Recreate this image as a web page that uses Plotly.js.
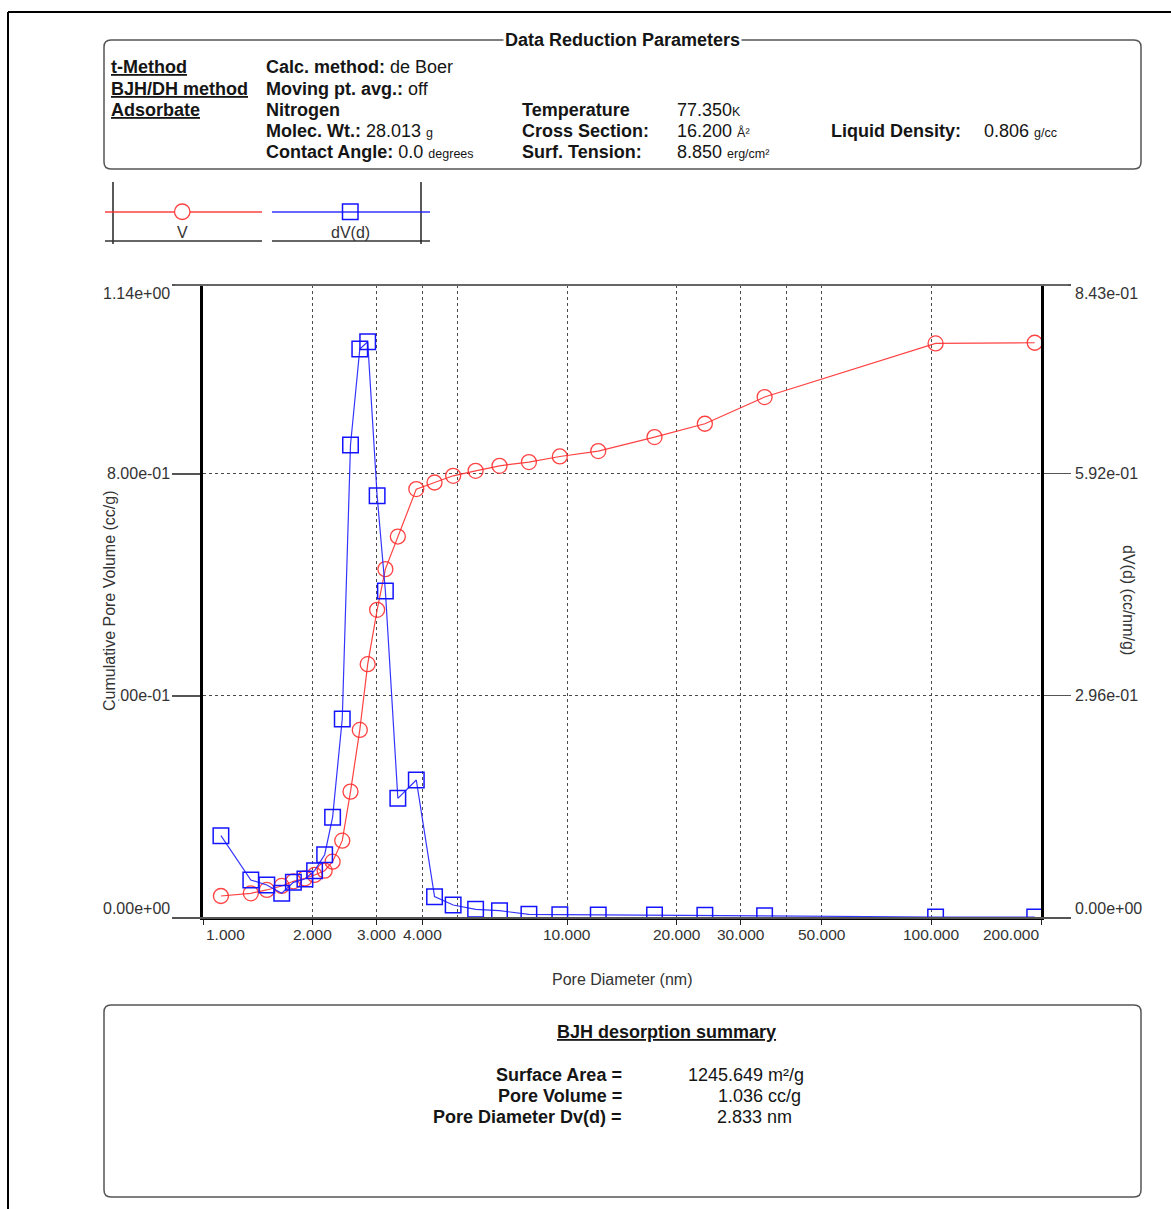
<!DOCTYPE html>
<html>
<head>
<meta charset="utf-8">
<script src="https://cdn.plot.ly/plotly-3.0.1.min.js"></script>
<style>
  html, body { margin: 0; padding: 0; background: #fff; }
  #chart { width: 1171px; height: 1209px; }
</style>
</head>
<body>
<div id="chart"></div>
<script>
// BJH desorption: pore diameter (nm), cumulative pore volume (cc/g), dV(d) (cc/nm/g)
const poreDiameter = [1.120, 1.353, 1.497, 1.645, 1.771, 1.905, 2.025, 2.158, 2.269, 2.412,
                      2.541, 2.695, 2.833, 3.007, 3.168, 3.428, 3.852, 4.323, 4.863, 5.605,
                      6.519, 7.851, 9.545, 12.17, 17.37, 23.88, 34.84, 102.7, 192.2];
const cumulativeVolume = [0.0396, 0.0445, 0.0505, 0.0577, 0.0661, 0.0715, 0.0775, 0.0852, 0.1014, 0.1393,
                          0.2276, 0.3387, 0.4571, 0.5550, 0.6283, 0.6870, 0.7724, 0.7843, 0.7964, 0.8054,
                          0.8144, 0.8211, 0.8312, 0.8409, 0.8661, 0.8901, 0.9382, 1.0348, 1.036];
const dVd = [0.1096, 0.0506, 0.0440, 0.0329, 0.0475, 0.0519, 0.0630, 0.0843, 0.1341, 0.2650,
             0.6299, 0.7578, 0.7675, 0.5624, 0.4355, 0.1594, 0.1838, 0.0284, 0.0173, 0.0116,
             0.0097, 0.0049, 0.0044, 0.0040, 0.0040, 0.0036, 0.0030, 0.0013, 0.0013];

// Axis ticks and labels
const xTickVals = [1, 2, 3, 4, 10, 20, 30, 50, 100, 200];
const xTickText = ['1.000', '2.000', '3.000', '4.000', '10.000', '20.000', '30.000', '50.000', '100.000', '200.000'];
const xExtraGrid = [5, 40];
const leftTickVals = [0, 0.4, 0.8, 1.14];
const leftTickText = ['0.00e+00', '4.00e-01', '8.00e-01', '1.14e+00'];
const rightTickVals = [0, 0.296, 0.592, 0.843];
const rightTickText = ['0.00e+00', '2.96e-01', '5.92e-01', '8.43e-01'];

// Page geometry (pixels) and helpers converting to paper fractions
const W = 1171, H = 1209;
const L = 203, R = 1041, T = 285, B = 918;
const px = x => (x - L) / (R - L);
const py = y => (B - y) / (B - T);

const FONT = 'Liberation Sans, Arial, Helvetica, sans-serif';
const INK = '#151515';
const GRID = '#4a4a4a';
const DASH = '3px,3px';

function txt(x, y, text, o) {
  o = o || {};
  return Object.assign({
    xref: 'paper', yref: 'paper', x: px(x), y: py(y), text: text,
    showarrow: false, xanchor: 'left', yanchor: 'middle',
    font: { family: FONT, size: o.size || 18, color: o.color || INK }
  }, o.extra || {});
}

function line(x0, y0, x1, y1, color, width) {
  return { type: 'line', xref: 'paper', yref: 'paper',
           x0: px(x0), y0: py(y0), x1: px(x1), y1: py(y1),
           line: { color: color, width: width } };
}

function roundBox(x0, y0, x1, y1, r, color) {
  const P = (x, y) => px(x) + ',' + py(y);
  const path = 'M' + P(x0 + r, y0) + ' L' + P(x1 - r, y0) + ' Q' + P(x1, y0) + ' ' + P(x1, y0 + r) +
               ' L' + P(x1, y1 - r) + ' Q' + P(x1, y1) + ' ' + P(x1 - r, y1) +
               ' L' + P(x0 + r, y1) + ' Q' + P(x0, y1) + ' ' + P(x0, y1 - r) +
               ' L' + P(x0, y0 + r) + ' Q' + P(x0, y0) + ' ' + P(x0 + r, y0) + ' Z';
  return { type: 'path', xref: 'paper', yref: 'paper', path: path,
           line: { color: color, width: 1.5 }, fillcolor: 'rgba(0,0,0,0)' };
}

const RED = 'rgba(255,45,45,0.9)';
const BLUE = 'rgba(30,30,255,0.9)';

const traces = [
  { x: poreDiameter, y: cumulativeVolume, type: 'scatter', mode: 'lines+markers', name: 'V',
    yaxis: 'y', line: { color: RED, width: 1.2 },
    marker: { symbol: 'circle-open', size: 15, color: RED, line: { width: 1.3 } } },
  { x: poreDiameter, y: dVd, type: 'scatter', mode: 'lines+markers', name: 'dV(d)',
    yaxis: 'y2', line: { color: BLUE, width: 1.2 },
    marker: { symbol: 'square-open', size: 15.5, color: '#1414ff', line: { width: 1.5 } } }
];

const shapes = [
  // page frame
  line(8, 12, 1171, 12, '#000', 2),
  line(8, 12, 8, 1209, '#000', 2),
  // parameter and summary boxes
  roundBox(104, 40, 1141, 169, 7, '#555'),
  roundBox(104, 1005, 1141, 1197, 7, '#555'),
  // extended top and bottom frame lines of the plot
  line(175, 285, 1068, 285, '#666', 2),
  line(175, 918, 1068, 918, '#555', 2),
  // legend: V
  line(113, 182, 113, 244, '#222', 1.5),
  line(105, 241, 262, 241, '#333', 1.5),
  line(105, 212, 262, 212, RED, 1.5),
  { type: 'circle', xref: 'paper', yref: 'paper', x0: px(174.5), x1: px(190), y0: py(219.5), y1: py(204),
    line: { color: RED, width: 1.3 }, fillcolor: '#fff' },
  // legend: dV(d)
  line(272, 241, 430, 241, '#333', 1.5),
  line(421, 182, 421, 244, '#222', 1.5),
  line(272, 212, 430, 212, BLUE, 1.5),
  { type: 'rect', xref: 'paper', yref: 'paper', x0: px(342.5), x1: px(358), y0: py(219.5), y1: py(204),
    line: { color: '#1414ff', width: 1.5 }, fillcolor: 'rgba(0,0,0,0)' }
];

const sm = s => '<span style="font-size:12.5px">' + s + '</span>';

const annotations = [
  // parameter box
  txt(622, 40, '<b>Data Reduction Parameters</b>', { extra: { xanchor: 'center', bgcolor: '#fff', borderpad: 1 } }),
  txt(109, 67, '<b><u>t-Method</u></b>'),
  txt(109, 89, '<b><u>BJH/DH method</u></b>'),
  txt(109, 110, '<b><u>Adsorbate</u></b>'),
  txt(264, 67, '<b>Calc. method:</b> de Boer'),
  txt(264, 89, '<b>Moving pt. avg.:</b> off'),
  txt(264, 110, '<b>Nitrogen</b>'),
  txt(264, 131, '<b>Molec. Wt.:</b> 28.013 ' + sm('g')),
  txt(264, 152, '<b>Contact Angle:</b> 0.0 ' + sm('degrees')),
  txt(520, 110, '<b>Temperature</b>'),
  txt(520, 131, '<b>Cross Section:</b>'),
  txt(520, 152, '<b>Surf. Tension:</b>'),
  txt(675, 110, '77.350' + sm('K')),
  txt(675, 131, '16.200 ' + sm('Å²')),
  txt(675, 152, '8.850 ' + sm('erg/cm²')),
  txt(829, 131, '<b>Liquid Density:</b>'),
  txt(982, 131, '0.806 ' + sm('g/cc')),
  // legend labels
  txt(182, 233, 'V', { size: 16, color: '#333', extra: { xanchor: 'center' } }),
  txt(350, 233, 'dV(d)', { size: 16, color: '#333', extra: { xanchor: 'center' } }),
  // summary box
  txt(666, 1032, '<b><u>BJH desorption summary</u></b>', { extra: { xanchor: 'center' } }),
  txt(624, 1075, '<b>Surface Area =</b>', { extra: { xanchor: 'right' } }),
  txt(624, 1096, '<b>Pore Volume =</b>', { extra: { xanchor: 'right' } }),
  txt(624, 1117, '<b>Pore Diameter Dv(d) =</b>', { extra: { xanchor: 'right' } }),
  txt(686, 1075, '1245.649 m²/g'),
  txt(716, 1096, '1.036 cc/g'),
  txt(715, 1117, '2.833 nm')
];

// left tick labels (end labels pulled inside the frame)
leftTickVals.forEach((v, i) => {
  const shift = i === 0 ? 10 : (i === leftTickVals.length - 1 ? -8 : 0);
  annotations.push({ xref: 'paper', yref: 'y', x: px(172), y: v, yshift: shift, text: leftTickText[i],
    showarrow: false, xanchor: 'right', yanchor: 'middle', font: { family: FONT, size: 16, color: '#333' } });
});
// right tick labels
rightTickVals.forEach((v, i) => {
  const shift = i === 0 ? 10 : (i === rightTickVals.length - 1 ? -8 : 0);
  annotations.push({ xref: 'paper', yref: 'y2', x: px(1073), y: v, yshift: shift, text: rightTickText[i],
    showarrow: false, xanchor: 'left', yanchor: 'middle', font: { family: FONT, size: 16, color: '#333' } });
});
// x tick labels (first and last kept inside the frame)
xTickVals.forEach((v, i) => {
  let anchor = 'center';
  if (i === 0) anchor = 'left';
  if (i === xTickVals.length - 1) anchor = 'right';
  annotations.push({ xref: 'x', yref: 'paper', x: Math.log10(v), y: py(934), text: xTickText[i],
    showarrow: false, xanchor: anchor, yanchor: 'middle', xshift: i === 0 ? 1 : 0,
    font: { family: FONT, size: 15.5, color: '#333' } });
});
// axis titles
annotations.push(txt(622, 979, 'Pore Diameter (nm)', { size: 16, color: '#333', extra: { xanchor: 'center' } }));
annotations.push(txt(109, 601, 'Cumulative Pore Volume (cc/g)',
  { size: 16, color: '#333', extra: { xanchor: 'center', textangle: -90, bgcolor: '#fff', borderpad: 0 } }));
annotations.push(txt(1129, 600, 'dV(d) (cc/nm/g)',
  { size: 16, color: '#333', extra: { xanchor: 'center', textangle: 90 } }));

const layout = {
  width: W, height: H,
  margin: { l: L, r: W - R, t: T, b: H - B, pad: 0 },
  paper_bgcolor: '#fff', plot_bgcolor: '#fff',
  showlegend: false,
  font: { family: FONT, size: 16, color: '#333' },
  xaxis: {
    type: 'log', range: [0, Math.log10(200)],
    tickmode: 'array', tickvals: xTickVals, showticklabels: false,
    ticks: 'outside', ticklen: 5, tickcolor: '#222', tickwidth: 1,
    showgrid: true, gridcolor: GRID, griddash: DASH, gridwidth: 1,
    minor: { tickmode: 'array', tickvals: xExtraGrid, showgrid: true, gridcolor: GRID, griddash: DASH, gridwidth: 1, ticks: '' },
    showline: true, linecolor: '#000', linewidth: 2, zeroline: false, fixedrange: true
  },
  yaxis: {
    range: [0, 1.14], tickmode: 'array', tickvals: leftTickVals, showticklabels: false,
    ticks: 'outside', ticklen: 28, tickcolor: '#555', tickwidth: 1.5,
    showgrid: true, gridcolor: GRID, griddash: DASH, gridwidth: 1,
    showline: true, linecolor: '#000', linewidth: 3, zeroline: false, fixedrange: true
  },
  yaxis2: {
    overlaying: 'y', side: 'right', range: [0, 0.843],
    tickmode: 'array', tickvals: rightTickVals, showticklabels: false,
    ticks: 'outside', ticklen: 27, tickcolor: '#555', tickwidth: 1.5,
    showgrid: false, showline: true, linecolor: '#000', linewidth: 3, zeroline: false, fixedrange: true
  },
  shapes: shapes,
  annotations: annotations
};

Plotly.newPlot('chart', traces, layout, { displayModeBar: false, staticPlot: true });
</script>
</body>
</html>
